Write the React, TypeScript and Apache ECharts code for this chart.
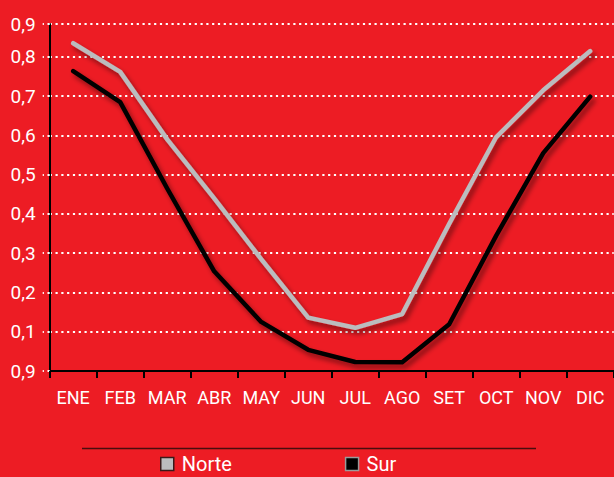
import React, { useEffect, useRef } from "react";
import * as echarts from "echarts";

const months = ["ENE", "FEB", "MAR", "ABR", "MAY", "JUN", "JUL", "AGO", "SET", "OCT", "NOV", "DIC"];
const norte = [0.835, 0.762, 0.59, 0.44, 0.285, 0.136, 0.11, 0.145, 0.375, 0.596, 0.715, 0.815];
const sur = [0.764, 0.685, 0.465, 0.254, 0.125, 0.054, 0.023, 0.022, 0.119, 0.345, 0.555, 0.699];
const yTickLabels = ["0,9", "0,1", "0,2", "0,3", "0,4", "0,5", "0,6", "0,7", "0,8", "0,9"];

const FONT = "Roboto, 'DejaVu Sans Condensed', sans-serif";
const RED = "#ed1c24";

export default function App() {
  const ref = useRef<HTMLDivElement>(null);
  useEffect(() => {
    if (!ref.current) return;
    const chart = echarts.init(ref.current, null, { renderer: "svg" });
    const shadow = {
      shadowColor: "rgba(0,0,0,0.45)",
      shadowBlur: 5,
      shadowOffsetX: 3,
      shadowOffsetY: 4,
    };
    chart.setOption({
      animation: false,
      backgroundColor: RED,
      grid: { left: 49.7, right: 0.3, top: 24, bottom: 106, containLabel: false },
      xAxis: {
        type: "category",
        data: months,
        boundaryGap: true,
        axisLine: { show: true, lineStyle: { color: "#000", width: 2 } },
        axisTick: { show: true, length: 7, lineStyle: { color: "#000", width: 2 } },
        axisLabel: { color: "#fff", fontFamily: FONT, fontSize: 18, margin: 17, interval: 0 },
        splitLine: { show: false },
      },
      yAxis: {
        type: "value",
        min: 0,
        max: 0.884,
        interval: 0.1,
        axisLine: { show: true, lineStyle: { color: "#000", width: 2 } },
        axisTick: { show: true, length: 7, lineStyle: { color: "#fff", width: 2.2, type: [2.2, 3.6] } },
        axisLabel: {
          color: "#fff",
          fontFamily: FONT,
          fontSize: 19,
          margin: 14,
          showMaxLabel: true,
          showMinLabel: true,
          formatter: (v: number) => yTickLabels[Math.min(9, Math.round(v * 10))],
        },
        splitLine: { show: true, lineStyle: { color: "#fff", width: 2.2, type: [2.2, 3.6] } },
      },
      legend: {
        left: 160,
        top: 454,
        padding: 0,
        icon: "rect",
        itemWidth: 13,
        itemHeight: 13,
        itemGap: 113,
        textStyle: { color: "#fff", fontFamily: FONT, fontSize: 20, padding: [0, 0, 0, 3] },
        data: [
          { name: "Norte", itemStyle: { color: "#bbbcbe", borderColor: "#3a1a1a", borderWidth: 1.5 } },
          { name: "Sur", itemStyle: { color: "#000", borderColor: "#9a9a9a", borderWidth: 1.5 } },
        ],
      },
      graphic: [
        {
          type: "line",
          shape: { x1: 82, y1: 448.5, x2: 536, y2: 448.5 },
          style: { stroke: "#4a0d0d", lineWidth: 1.5 },
          silent: true,
        },
      ],
      series: [
        {
          name: "Norte",
          type: "line",
          data: norte,
          symbol: "none",
          color: "#bbbcbe",
          lineStyle: { color: "#bbbcbe", width: 4.5, cap: "round", join: "round", ...shadow },
          z: 3,
        },
        {
          name: "Sur",
          type: "line",
          data: sur,
          symbol: "none",
          color: "#000",
          lineStyle: { color: "#000", width: 4.5, cap: "round", join: "round", ...shadow },
          z: 2,
        },
      ],
    });
    return () => chart.dispose();
  }, []);
  return (
    <div
      ref={ref}
      style={{ position: "fixed", left: 0, top: 0, width: 614, height: 477, background: RED }}
    />
  );
}
